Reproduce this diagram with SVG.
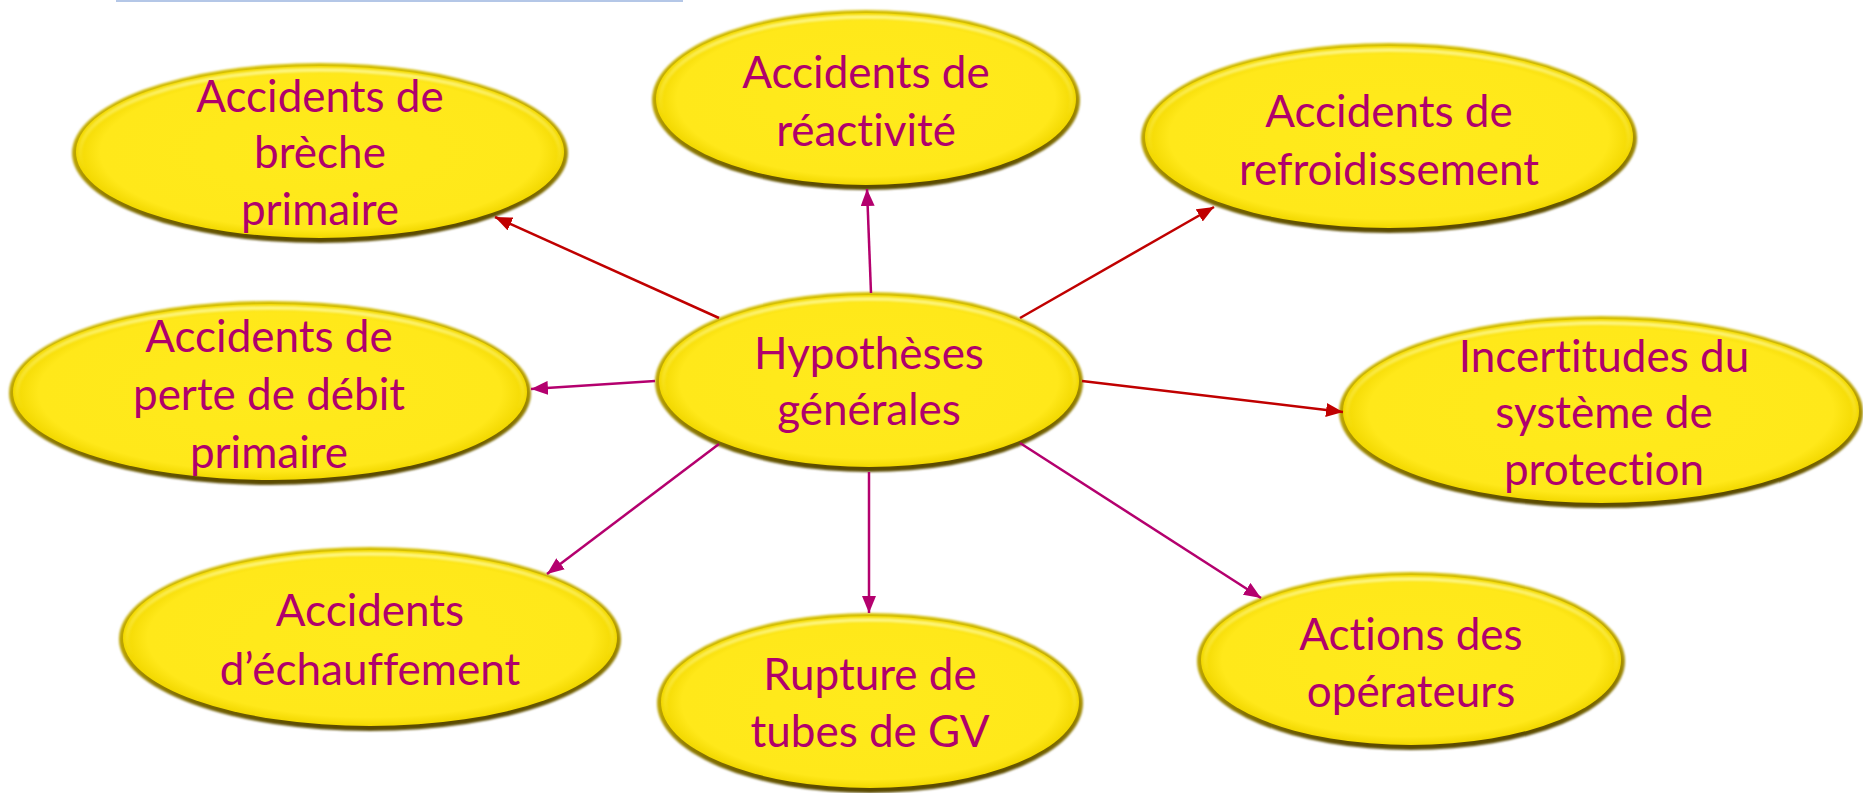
<svg xmlns="http://www.w3.org/2000/svg" width="1863" height="793" viewBox="0 0 1863 793">
<style>
.rim{fill:url(#rimGrad);filter:url(#soft)}
.face{fill:url(#faceGrad)}
.hl{fill:none;stroke:url(#hlGrad);stroke-width:4;filter:url(#soft)}
.lbl{font-family:Lato,"Open Sans","Liberation Sans",sans-serif;font-size:44px;fill:#B0006C;text-anchor:middle;font-variant-ligatures:none;font-feature-settings:"liga" 0,"clig" 0}
.red{stroke:#C00000;stroke-width:2.5;fill:none;marker-end:url(#arRed)}
.mag{stroke:#B4006E;stroke-width:2.5;fill:none;marker-end:url(#arMag)}
</style>
<defs>
<linearGradient id="rimGrad" x1="0" y1="0" x2="0.15" y2="1">
<stop offset="0" stop-color="#D9C400"/>
<stop offset="0.55" stop-color="#B8A000"/>
<stop offset="1" stop-color="#5C4C00"/>
</linearGradient>
<radialGradient id="faceGrad" cx="0.5" cy="0.5" r="0.5">
<stop offset="0" stop-color="#FFEA1C"/>
<stop offset="0.9" stop-color="#FFE81A"/>
<stop offset="1" stop-color="#F2D800"/>
</radialGradient>
<linearGradient id="hlGrad" x1="0" y1="0" x2="0" y2="1">
<stop offset="0" stop-color="#FFF88A" stop-opacity="0.9"/>
<stop offset="0.45" stop-color="#FFF36A" stop-opacity="0.3"/>
<stop offset="0.6" stop-color="#FFF36A" stop-opacity="0"/>
</linearGradient>
<filter id="soft" x="-5%" y="-5%" width="110%" height="110%">
<feGaussianBlur stdDeviation="1"/>
</filter>
<marker id="arRed" markerUnits="userSpaceOnUse" markerWidth="18" markerHeight="14" refX="17" refY="7" orient="auto">
<path d="M0,0 L17,7 L0,14 z" fill="#C00000"/>
</marker>
<marker id="arMag" markerUnits="userSpaceOnUse" markerWidth="18" markerHeight="14" refX="17" refY="7" orient="auto">
<path d="M0,0 L17,7 L0,14 z" fill="#B4006E"/>
</marker>
</defs>
<rect width="1863" height="793" fill="#FFFFFF"/>
<line x1="116" y1="1" x2="683" y2="1" stroke="#B4C7E7" stroke-width="2"/>

<g id="node-breche">
<ellipse class="rim" cx="320" cy="153" rx="248" ry="90"/>
<ellipse class="face" cx="320" cy="152" rx="244" ry="86"/>
<ellipse class="hl" cx="320" cy="153" rx="240" ry="83"/>
<text class="lbl"><tspan x="320" y="112">Accidents de</tspan><tspan x="320" y="168">brèche</tspan><tspan x="320" y="225">primaire</tspan></text>
</g>

<g id="node-reactivite">
<ellipse class="rim" cx="866" cy="100" rx="214" ry="90"/>
<ellipse class="face" cx="866" cy="99" rx="210" ry="86"/>
<ellipse class="hl" cx="866" cy="100" rx="206" ry="83"/>
<text class="lbl"><tspan x="866" y="88">Accidents de</tspan><tspan x="866" y="146">réactivité</tspan></text>
</g>

<g id="node-refroidissement">
<ellipse class="rim" cx="1389" cy="138" rx="248" ry="95"/>
<ellipse class="face" cx="1389" cy="137" rx="244" ry="91"/>
<ellipse class="hl" cx="1389" cy="138" rx="240" ry="88"/>
<text class="lbl"><tspan x="1389" y="127">Accidents de</tspan><tspan x="1389" y="185">refroidissement</tspan></text>
</g>

<g id="node-perte">
<ellipse class="rim" cx="270" cy="393" rx="261" ry="92"/>
<ellipse class="face" cx="270" cy="392" rx="257" ry="88"/>
<ellipse class="hl" cx="270" cy="393" rx="253" ry="85"/>
<text class="lbl"><tspan x="269" y="352">Accidents de</tspan><tspan x="269" y="410">perte de débit</tspan><tspan x="269" y="468">primaire</tspan></text>
</g>

<g id="node-hypotheses">
<ellipse class="rim" cx="869" cy="382" rx="214" ry="90"/>
<ellipse class="face" cx="869" cy="381" rx="210" ry="86"/>
<ellipse class="hl" cx="869" cy="382" rx="206" ry="83"/>
<text class="lbl"><tspan x="869" y="369">Hypothèses</tspan><tspan x="869" y="425">générales</tspan></text>
</g>

<g id="node-incertitudes">
<ellipse class="rim" cx="1601" cy="412" rx="262" ry="96"/>
<ellipse class="face" cx="1601" cy="411" rx="258" ry="92"/>
<ellipse class="hl" cx="1601" cy="412" rx="254" ry="89"/>
<text class="lbl"><tspan x="1604" y="372">Incertitudes du</tspan><tspan x="1604" y="428">système de</tspan><tspan x="1604" y="485">protection</tspan></text>
</g>

<g id="node-echauffement">
<ellipse class="rim" cx="370" cy="639" rx="251" ry="92"/>
<ellipse class="face" cx="370" cy="638" rx="247" ry="88"/>
<ellipse class="hl" cx="370" cy="639" rx="243" ry="85"/>
<text class="lbl"><tspan x="370" y="626">Accidents</tspan><tspan x="370" y="685">d’échauffement</tspan></text>
</g>

<g id="node-rupture">
<ellipse class="rim" cx="870" cy="703" rx="213" ry="90"/>
<ellipse class="face" cx="870" cy="702" rx="209" ry="86"/>
<ellipse class="hl" cx="870" cy="703" rx="205" ry="83"/>
<text class="lbl"><tspan x="870" y="690">Rupture de</tspan><tspan x="870" y="747">tubes de GV</tspan></text>
</g>

<g id="node-operateurs">
<ellipse class="rim" cx="1411" cy="661" rx="214" ry="89"/>
<ellipse class="face" cx="1411" cy="660" rx="210" ry="85"/>
<ellipse class="hl" cx="1411" cy="661" rx="206" ry="82"/>
<text class="lbl"><tspan x="1411" y="650">Actions des</tspan><tspan x="1411" y="707">opérateurs</tspan></text>
</g>

<g id="connectors">
<line class="red" x1="719" y1="318" x2="495" y2="217"/>
<line class="mag" x1="871" y1="293" x2="867" y2="189"/>
<line class="red" x1="1020" y1="318" x2="1214" y2="207"/>
<line class="mag" x1="655" y1="381" x2="531" y2="389"/>
<line class="red" x1="1082" y1="381" x2="1343" y2="412"/>
<line class="mag" x1="719" y1="444" x2="547" y2="574"/>
<line class="mag" x1="869" y1="472" x2="869" y2="613"/>
<line class="mag" x1="1020" y1="443" x2="1261" y2="598"/>
</g>
</svg>
